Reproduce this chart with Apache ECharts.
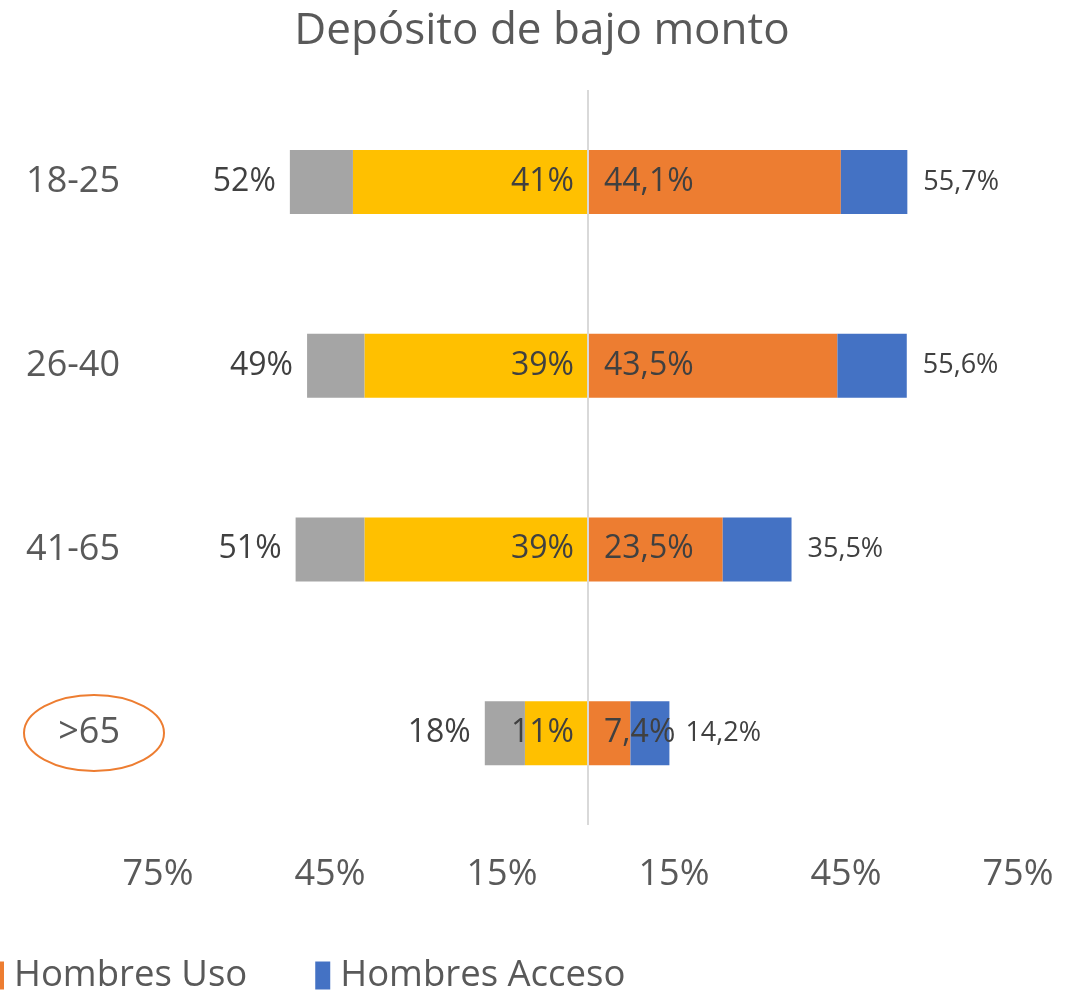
<!DOCTYPE html>
<html>
<head>
<meta charset="utf-8">
<script src="https://cdn.jsdelivr.net/npm/echarts@6/dist/echarts.min.js"></script>
<style>
  html, body { margin: 0; padding: 0; background: #fff; }
  #chart { width: 1084px; height: 1001px; }
</style>
</head>
<body>
<div id="chart"></div>
<script>
const categories = ['18-25', '26-40', '41-65', '>65'];
const mujeresAcceso = [52, 49, 51, 18];
const mujeresUso = [41, 39, 39, 11];
const hombresUso = [44.1, 43.5, 23.5, 7.4];
const hombresAcceso = [55.7, 55.6, 35.5, 14.2];
const xTicks = [-75, -45, -15, 15, 45, 75];

const FONT = '"Open Sans", sans-serif';
const TXT = '#595959';
const LBL = '#404040';

const fmtH = (v) => v.toFixed(1).replace('.', ',') + '%';

const myChart = echarts.init(document.getElementById('chart'));
const option = {
  animation: false,
  textStyle: { fontFamily: FONT },
  title: {
    text: 'Depósito de bajo monto',
    left: 'center',
    top: 4,
    textStyle: { fontSize: 44, fontWeight: 'normal', color: TXT, fontFamily: FONT },
  },
  legend: {
    data: ['Hombres Uso', 'Hombres Acceso'],
    left: -16,
    bottom: 2,
    itemWidth: 15,
    itemHeight: 28,
    itemGap: 68,
    icon: 'rect',
    textStyle: { fontSize: 36.5, color: TXT, fontFamily: FONT, padding: [0, 0, 0, 5] },
  },
  grid: { left: 158, right: 66, top: 90, bottom: 176, containLabel: false },
  xAxis: {
    type: 'value',
    min: -75,
    max: 75,
    interval: 30,
    axisLine: { show: false },
    axisTick: { show: false },
    splitLine: { show: false },
    axisLabel: {
      fontSize: 36,
      color: TXT,
      margin: 32,
      customValues: xTicks,
      formatter: (v) => Math.abs(v) + '%',
    },
  },
  yAxis: {
    type: 'category',
    data: categories,
    inverse: true,
    axisLine: { show: false },
    axisTick: { show: false },
    axisLabel: { fontSize: 36, color: TXT, margin: 38 },
  },
  series: [
    {
      name: 'Mujeres Uso',
      type: 'bar',
      stack: 'w',
      barWidth: 64,
      barGap: '-100%',
      data: mujeresUso.map((v) => -v),
      itemStyle: { color: '#FFC000' },
      label: {
        show: true,
        position: 'insideRight',
        distance: 14,
        fontSize: 32,
        color: LBL,
        formatter: (p) => mujeresUso[p.dataIndex] + '%',
      },
      markLine: {
        silent: true,
        symbol: 'none',
        label: { show: false },
        lineStyle: { color: '#d9d9d9', type: 'solid', width: 2 },
        data: [{ xAxis: 0 }],
      },
    },
    {
      name: 'Mujeres Acceso',
      type: 'bar',
      stack: 'w',
      barWidth: 64,
      barGap: '-100%',
      data: mujeresAcceso.map((v, i) => -(v - mujeresUso[i])),
      itemStyle: { color: '#A5A5A5' },
      label: {
        show: true,
        position: 'left',
        distance: 14,
        fontSize: 32,
        color: LBL,
        formatter: (p) => mujeresAcceso[p.dataIndex] + '%',
      },
    },
    {
      name: 'Hombres Uso',
      type: 'bar',
      stack: 'm',
      barWidth: 64,
      barGap: '-100%',
      data: hombresUso,
      itemStyle: { color: '#ED7D31' },
      label: {
        show: true,
        position: 'insideLeft',
        distance: 16,
        fontSize: 32,
        color: LBL,
        formatter: (p) => fmtH(hombresUso[p.dataIndex]),
      },
    },
    {
      name: 'Hombres Acceso',
      type: 'bar',
      stack: 'm',
      barWidth: 64,
      barGap: '-100%',
      data: hombresAcceso.map((v, i) => +(v - hombresUso[i]).toFixed(1)),
      itemStyle: { color: '#4472C4' },
      label: {
        show: true,
        position: 'right',
        distance: 16,
        fontSize: 27,
        color: LBL,
        formatter: (p) => fmtH(hombresAcceso[p.dataIndex]),
      },
    },
  ],
  graphic: [
    {
      type: 'ellipse',
      shape: { cx: 94, cy: 733, rx: 70, ry: 38 },
      style: { fill: 'none', stroke: '#ED7D31', lineWidth: 2 },
      silent: true,
    },
  ],
};
myChart.setOption(option);
window.addEventListener('resize', () => {
  myChart.resize();
});
</script>
</body>
</html>
